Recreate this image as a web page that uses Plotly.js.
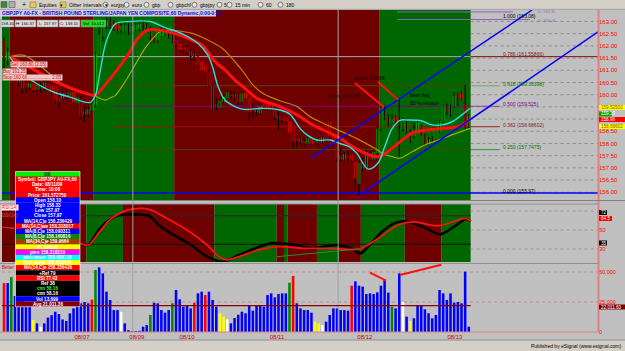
<!DOCTYPE html>
<html><head><meta charset="utf-8">
<script src="https://cdn.plot.ly/plotly-3.0.1.min.js"></script>
<style>html,body{margin:0;padding:0;background:#c0c0c0;overflow:hidden}#chart{width:625px;height:351px}</style>
</head><body><div id="chart"></div>
<script>
// ---------------- DATA ----------------
const barOpen = [162.24,161.4,161.7,161.2,160.85,160.6,160.5,160.3,160.45,160.2,160.4,160.25,160.45,160.35,160.35,159.9,159.85,160.1,159.95,160.1,159.65,159.85,159.3,159.2,159.35,159.6,161.65,162.4,162.8,163.0,162.95,162.9,162.65,162.6,162.85,162.6,162.65,162.7,162.85,162.85,162.72,162.4,162.25,162.4,162.45,162.6,162.45,162.25,162.1,161.9,161.95,161.8,161.7,161.55,161.35,161.2,160.95,160.35,159.6,159.45,159.7,159.85,160.0,160.0,160.0,159.7,160.1,159.9,159.4,159.3,159.25,159.8,159.7,159.6,159.45,159.1,159.15,159.05,158.9,158.7,158.2,158.2,158.1,158.0,158.15,158.05,158.2,158.05,158.4,158.9,158.3,157.95,157.5,157.35,157.5,157.55,157.25,156.35,157.25,157.0,157.6,157.35,157.6,158.6,159.4,159.1,158.85,159.1,158.95,158.6,158.9,158.55,158.3,158.55,158.7,158.35,158.0,158.2,158.2,158.5,158.9,159.5,159.55,159.5,160.0,160.05,159.6,158.7];
const barHigh = [162.35,161.95,161.8,161.3,160.95,160.7,160.6,160.55,160.55,160.5,160.5,160.6,160.55,160.4,160.4,160.1,160.15,160.2,160.15,160.15,160.0,159.95,159.55,159.5,159.75,161.75,162.8,162.95,163.15,163.2,163.05,163.0,162.9,162.95,162.95,162.9,162.95,163.0,163.05,162.95,162.8,162.5,162.55,162.8,162.75,162.7,162.5,162.3,162.15,162.0,162.0,161.85,161.75,161.6,161.4,161.25,161.0,160.4,159.85,159.85,160.0,160.2,160.15,160.1,160.05,160.15,160.2,159.95,159.6,159.45,159.6,159.85,159.75,159.65,159.5,159.3,159.2,159.1,158.95,158.75,158.25,158.25,158.25,158.25,158.2,158.2,158.25,158.3,158.5,159.05,158.35,158.0,157.8,157.65,157.7,157.6,157.3,157.3,157.4,157.75,157.7,157.75,158.75,159.6,159.55,159.2,159.2,159.15,159.78,159.05,159.0,158.6,158.85,158.95,158.75,158.4,158.25,158.3,158.65,158.95,159.6,159.65,159.6,160.1,160.1,160.15,160.4,159.2];
const barLow = [160.9,161.2,160.9,160.6,160.35,160.05,160.1,160.15,160.05,160.1,160.1,160.15,160.15,159.95,159.65,159.45,159.8,159.8,159.85,159.6,159.55,159.0,158.9,159.1,159.3,159.5,161.6,162.2,162.7,162.7,162.6,162.5,162.5,162.55,162.45,162.5,162.6,162.6,162.6,162.65,162.1,162.1,162.1,162.35,162.4,162.3,162.1,161.95,161.75,161.7,161.65,161.4,161.4,161.1,160.95,160.85,160.3,159.35,159.35,159.4,159.65,159.8,159.85,159.75,159.6,159.6,159.8,158.9,159.05,159.15,159.2,159.4,159.15,159.35,158.95,158.55,158.85,158.8,158.35,157.8,157.8,157.95,157.85,157.95,157.95,157.95,157.95,158.0,158.05,158.2,157.9,157.25,157.25,157.3,157.25,157.2,156.05,155.9,156.85,156.95,157.25,157.3,157.55,158.5,158.95,158.7,158.8,158.8,157.4,158.5,158.4,158.0,158.2,158.5,158.3,157.9,157.95,158.05,158.15,158.45,158.85,159.15,159.1,159.45,159.55,159.75,158.55,158.6];
const barClose = [161.56,161.75,161.2,160.8,160.5,160.25,160.3,160.45,160.2,160.4,160.25,160.5,160.3,160.1,159.75,159.7,160.05,159.9,160.1,159.7,159.9,159.1,159.2,159.4,159.65,161.65,162.45,162.8,163.0,162.95,162.7,162.65,162.8,162.85,162.55,162.8,162.85,162.9,162.8,162.7,162.38,162.2,162.45,162.65,162.65,162.35,162.2,162.05,161.85,161.85,161.75,161.5,161.5,161.2,161.0,160.95,160.35,159.4,159.5,159.75,159.9,160.1,159.95,159.9,159.7,160.05,159.85,159.3,159.3,159.35,159.55,159.45,159.45,159.45,159.05,159.05,158.95,158.9,158.45,158.1,158.1,158.05,158.0,158.2,158.0,158.1,158.0,158.25,158.1,158.3,158.0,157.4,157.35,157.55,157.4,157.3,156.6,157.2,156.95,157.65,157.35,157.65,158.6,159.45,159.1,158.8,159.0,158.9,158.9,158.95,158.5,158.1,158.55,158.85,158.4,158.0,158.15,158.15,158.55,158.85,159.55,159.3,159.2,159.95,159.9,159.85,158.65,159.15];
const volume = [40800,40800,45700,30000,28000,27000,24000,22000,10000,7200,4400,7200,12000,14000,16900,15000,10500,9200,15500,19700,21700,23900,25000,23900,27000,51700,53900,48900,33600,26700,18300,18300,16900,7200,1500,800,800,1000,4400,5800,14200,24400,23900,18300,16100,18300,23900,35000,27200,21100,21700,19700,24400,32200,33600,30800,33600,26700,21100,15600,12800,10600,7200,11700,14400,16900,15600,22500,17800,22500,22500,21100,30800,32200,28900,31700,32200,32200,41100,46700,23900,19700,18300,18300,16100,8600,7200,5800,8600,14200,19700,19700,18300,18300,17800,38600,42200,38600,37800,31700,32200,31700,33000,38600,43900,32800,21100,19700,48900,25000,12800,9200,11400,22500,22500,18900,15600,11400,14200,35000,32200,26700,32200,24400,25000,23900,50300,4400];
const volumeKind = "rbgbbbbbybwbbbbbbbbbbbbbrgbbbbbbwbbbbbbbgbbbbbgbbbbbrbbrbbbyywbbbbbbbbbbbbbbbbgrbbbbbyywbbbbbbbrbbbbbbbbbbgbbwbybbbbbbbbbbbbbbbbw";
const volumeAverage = 22011.6;

// moving averages: slot positions and prices
const fastMaSlot = [1.6,4.4,7.9,13.4,18,23.5,24.9,26.2,27.6,29,30.6,34.4,39.9,44,48.6,53,55.7,57.1,58.5,60.4,63.1,65.3,70.8,75.4,78.1,80.9,82.8,85.5,89.1,91.8,94.5,96.4,99.5,102.2,104.1,106,108.2,110.4,114.2,116.9,119.7,122.4,125.1,127.3];
const fastMaPrice = [161.55,161.0,160.55,160.12,159.9,159.68,159.95,160.9,162.0,162.58,162.92,163.0,163.0,162.75,162.5,162.1,161.62,161.08,160.33,159.78,159.51,159.4,159.44,159.37,159.2,158.62,158.35,158.14,158.14,158.0,157.85,157.6,156.95,157.2,157.9,158.6,158.95,158.96,158.92,158.76,158.76,158.89,159.17,159.44];
const midMaSlot = [1.6,7.9,15.3,23.5,24.9,26.2,29,30.3,33.9,36.6,39.3,42.1,46.7,51.4,54.1,57.7,60.4,63.1,65.3,69.1,72.7,75.4,80.1,84.4,89.1,91.8,94.5,98.6,102.2,104.9,107.7,111.5,115.8,120.5,124,127.3];
const midMaPrice = [161.55,161.05,160.45,160.0,159.97,160.15,160.65,160.9,161.63,162.31,162.65,162.65,162.5,162.24,162.03,161.35,161.01,160.6,160.33,159.85,159.65,159.51,159.17,158.76,158.42,158.21,157.94,157.6,157.46,157.66,158.0,158.42,158.55,158.62,158.69,158.96];
const slowFallASlot = [1.6,5.2,9.8,15.3,20.8,24.9];
const slowFallAPrice = [161.55,161.62,161.2,160.5,160.15,159.97];
const slowRiseASlot = [24.9,26.2,27.6,29.5,30.3,33.1,35.8,38.5,40.7,42.6,45.9];
const slowRiseAPrice = [159.97,159.85,159.78,159.9,159.95,160.53,161.22,161.9,162.31,162.58,162.65];
const slowFallBSlot = [45.9,51.4,55.7,59.6,63.1,65.3,68,70.8,75.4,80.1,83.6,89.1,96.4,101.9];
const slowFallBPrice = [162.65,162.51,162.24,161.9,161.35,160.95,160.4,160.05,159.75,159.51,159.1,158.7,158.2,157.75];
const slowRiseBSlot = [101.9,103.3,106,108.2,111.5,115,118.6,122.4,127.3];
const slowRiseBPrice = [157.75,157.6,157.46,157.4,157.66,157.94,158.14,158.35,158.62];

// RSI panel
const rsiSlot = [-0.5,2.2,5,10,15,20,20.8,23,26.2,29.4,31.6,34.7,39.6,42.3,45.6,51.1,55.5,59.8,64.2,68.6,73,75.1,78.4,83.9,91,94.8,97.5,100.3,103.3,106.6,109.3,112,115.3,119.1,123,126.2,127.5];
const rsiValue = [53.5,51.8,48,44,42,38,36,34.2,51.8,62.3,65.8,66.5,65,55.3,46.5,34.2,22,16.6,23.7,30.7,36,36,35,30.7,34.2,30.7,25.5,36,48.2,57,59.2,57,51.8,45.4,53.5,61.6,59.2];
const rsiSignalSlot = [-0.5,2.2,20.8,23,26.2,29.4,33.7,38,40.2,44.5,50,55.5,58.7,60.9,64.2,69.7,75.1,81.7,89.3,97,102.2,107.7,112,118.6,124,126.2,127.5];
const rsiSignalValue = [53,52,36,34,48.5,62.3,71,72.8,71,62.3,50,34.2,22,18.5,22,29,32.5,30.7,30.7,30,41,55.3,58.5,54.3,60.3,62.3,59.2];

// trend state bands (start slot, end slot, state)
const priceBandStart = [-0.55,1.5,24.5,46.5,102.5];
const priceBandEnd = [1.5,24.5,46.5,102.5,127.5];
const priceBandState = ['up','down','up','down','up'];
const rsiBandStart = [-0.55,22.5,32.5,57.5,74.5,76.5,77.5,85.5,91.5,97.5,109.5,119.5];
const rsiBandEnd = [22.5,32.5,57.5,74.5,76.5,77.5,85.5,91.5,97.5,109.5,119.5,127.5];
const rsiBandState = ['down','up','down','up','down','up','down','up','down','up','down','up'];

// Fibonacci retracement
const fibRatio = ['0.000','0.250','0.382','0.500','0.618','0.786','1.000'];
const fibPrice = [155.97,157.7475,158.68602,159.525,160.36398,161.55866,163.08];

// hand-drawn lines (slot, value pairs)
const channelUpper = {slot:[83.9,144.3], price:[157.40,163.47]};
const channelLower = {slot:[97.3,162.3], price:[155.89,162.57]};
const arrowA = {slot:[95.9,103.8], price:[160.48,159.49]};
const arrowB = {slot:[102.2,107.7], price:[160.52,159.78]};
const rsiTrend = {slot:[74.6,96.9], value:[21.9,30]};
const volTrendA = {slot:[100,104.4], value:[49400,42750]};
const volTrendB = {slot:[108.2,119.5], value:[47500,56100]};
const separatorSlot = [35.2,91.3];

// axis labels
const dateLabels = ['08/07','08/09','08/10','08/11','08/12','08/13'];
const dateTickSlot = [21.3,36.3,50,74.6,98.6,123.2];
const priceTicks = [156,156.5,157,157.5,158,158.5,160,160.5,161,161.5,162,162.5,163];
const rsiTicks = [30,50];
const volTicks = [0,25000,50000];
const volTickText = ['0','25,000','50,000'];

const infoLabels = ['OK','Symbol: GBPJPY A0-FX,60','Date: 08/11/09','Time: 10:00','Price: 161.572750','Open 158.10','High 158.33','Low 157.97','Close 157.97','MA(14,C)e 158.236429','MA(14,C)we 158.318017','MA(8,C)e 158.090311','MA(8,C)e 158.160816','MA(34,C)e 159.9664','PL 158.60','pivo 158.318319','pivo anver 158.606118','pivo anver 158.683446','MA(14,C)e 158.236429','+Ref 79','RSI 77.43','Ref 38','cnn 58.16','cnn 58.16','Vol 13,699','Avg 21,011.36'];

// ---------------- DRAWING ----------------
const F = 'Liberation Sans, Arial, sans-serif';
const W = 625, H = 351;
const P = x => x / W, Q = y => 1 - y / H;
const slots = barOpen.map((_, i) => i);
const shapes = [], ann = [];
const UP = '#006600', DOWN = '#6e0000';

function note(x, y, text, size, color, extra) {
  ann.push(Object.assign({xref:'paper', yref:'paper', x:P(x), y:Q(y), text:text, showarrow:false,
    xanchor:'left', yanchor:'middle', borderpad:0, font:{family:F, size:size, color:color}}, extra || {}));
}
function prect(x0, y0, x1, y1, fill, lineColor) {
  shapes.push({type:'rect', xref:'paper', yref:'paper', x0:P(x0), x1:P(x1), y0:Q(y1), y1:Q(y0),
    fillcolor:fill, line:{width:lineColor ? 0.6 : 0, color:lineColor || fill}, layer:'above'});
}
function pline(x0, y0, x1, y1, color, width, dash) {
  shapes.push({type:'line', xref:'paper', yref:'paper', x0:P(x0), x1:P(x1), y0:Q(y0), y1:Q(y1),
    line:{color:color, width:width || 1, dash:dash || 'solid'}, layer:'above'});
}
function dline(yref, x0, y0, x1, y1, color, width, layer, dash) {
  shapes.push({type:'line', xref:'x', yref:yref, x0:x0, x1:x1, y0:y0, y1:y1,
    line:{color:color, width:width, dash:dash || 'solid'}, layer:layer || 'above'});
}

// bands
priceBandStart.forEach((s, k) => shapes.push({type:'rect', xref:'x', yref:'y domain', x0:s, x1:priceBandEnd[k], y0:0, y1:1,
  fillcolor: priceBandState[k] === 'up' ? UP : DOWN, line:{width:0}, layer:'below'}));
rsiBandStart.forEach((s, k) => shapes.push({type:'rect', xref:'x', yref:'y2 domain', x0:s, x1:rsiBandEnd[k], y0:0, y1:1,
  fillcolor: rsiBandState[k] === 'up' ? UP : DOWN, line:{width:0}, layer:'below'}));

const XEND = 162.3, BANDEND = 127.5;
const gridLevels = [156,156.5,157,157.5,158,158.5,159,159.5,160,160.5,161,161.5,162,162.5,163];
gridLevels.forEach(t => dline('y', BANDEND, t, XEND, t, '#8c8c8c', 1, 'below', 'dot'));
[30,50,70].forEach(t => dline('y2', BANDEND, t, XEND, t, '#b08a8a', 1, 'below', 'dot'));
[25000, 50000].forEach(t => dline('y3', -0.55, t, XEND, t, '#c08a8a', 1, 'below', 'dot'));
dline('y2', -0.55, 65, BANDEND, 65, '#2a2a2a', 1, 'below');
dline('y2', -0.55, 35, BANDEND, 35, '#111', 1, 'below');

const fibBandColor = ['#0000ff','#4a4a00','#a01010','#800080','#5a4000','#a8a8a8','#9060c0'];
const fibShortColor = ['#0000ff','#2e9a2e','#8b2a2a','#9040a0','#6aaa6a','#8b1010','#9060c0'];
const fibLabelColor = ['#000','#007000','#802020','#800080','#007000','#802020','#000'];
fibPrice.forEach((p, k) => {
  if (k === 0) { dline('y', -0.55, p, XEND, p, '#0000ff', 1.5, 'below'); }
  else if (k === 5) { dline('y', -0.55, p, BANDEND, p, fibBandColor[k], 1, 'below'); dline('y', BANDEND, p, XEND, p, fibShortColor[k], 1, 'below'); }
  else if (k === 6) { dline('y', 107.4, p, 143.7, p, '#9060c0', 1, 'above'); dline('y', 107.4, 163.39, 139.1, 163.39, '#9060c0', 1, 'above'); }
  else { dline('y', 29.8, p, BANDEND, p, fibBandColor[k], 1, 'below'); dline('y', BANDEND, p, 135.5, p, fibShortColor[k], 1, 'below'); }
  ann.push({xref:'x', yref:'y', x:135.8, y:p + (k === 6 ? 0.15 : 0.09), text:fibRatio[k] + ' (' + p + ')', showarrow:false, xanchor:'left', yanchor:'middle',
    font:{family:F, size:5, color:fibLabelColor[k]}});
});
ann.push({xref:'x', yref:'y', x:145.3, y:163.41, text:'D: 163.35', showarrow:false, xanchor:'left', yanchor:'middle', font:{family:F, size:4, color:'#9060c0'}});
ann.push({xref:'x', yref:'y', x:145.3, y:163.03, text:'D: 163.08', showarrow:false, xanchor:'left', yanchor:'middle', font:{family:F, size:4, color:'#9060c0'}});

separatorSlot.forEach(s => shapes.push({type:'line', xref:'x', yref:'paper', x0:s, x1:s, y0:Q(332), y1:Q(10), line:{color:'#a0a0a0', width:1}, layer:'above'}));

dline('y', channelUpper.slot[0], channelUpper.price[0], channelUpper.slot[1], channelUpper.price[1], '#0000ff', 1.5);
dline('y', channelLower.slot[0], channelLower.price[0], channelLower.slot[1], channelLower.price[1], '#0000ff', 1.5);
dline('y', arrowA.slot[0], arrowA.price[0], arrowA.slot[1], arrowA.price[1], '#ff1010', 2);
dline('y', arrowB.slot[0], arrowB.price[0], arrowB.slot[1], arrowB.price[1], '#ff1010', 2);
dline('y2', rsiTrend.slot[0], rsiTrend.value[0], rsiTrend.slot[1], rsiTrend.value[1], '#2e8b2e', 1);
dline('y3', volTrendA.slot[0], volTrendA.value[0], volTrendA.slot[1], volTrendA.value[1], '#ff1010', 2);
dline('y3', volTrendB.slot[0], volTrendB.value[0], volTrendB.slot[1], volTrendB.value[1], '#ff1010', 2);
dline('y3', -0.55, volumeAverage, BANDEND, volumeAverage, '#800000', 1.2);

pline(598.5, 10, 598.5, 332, '#e08080', 2);
pline(0, 332, 598.5, 332, '#e08080', 1);
pline(0, 200.5, 625, 200.5, '#808080', 1);
pline(0, 204, 598, 204, '#909090', 1);
pline(0, 263.5, 598, 263.5, '#909090', 1);

// toolbar
prect(0, 0, 625, 9, '#d4d0c8');
pline(0, 9.3, 625, 9.3, '#909090', 0.6);
prect(1, 1.5, 7, 7.5, '#3a8a3a', '#555'); prect(9, 1.5, 15, 7.5, '#b0b0b0', '#555');
note(21, 4.8, '+', 7, '#000');
prect(30, 2, 36, 7.5, '#e8c860', '#907020'); note(38, 4.8, 'Equities  ▾', 5, '#000');
prect(60, 2, 66, 7.5, '#e8c860', '#907020'); note(68, 4.8, 'Other Intervals  ▾', 5, '#000');
[['eurjpy',103],['euro',124],['gbp',144],['gbpchf',168],['gbpjpy',192],['5',217],['15 min',227],['60',258],['180',278]].forEach(([t, x]) => {
  shapes.push({type:'circle', xref:'paper', yref:'paper', x0:P(x), x1:P(x + 5), y0:Q(7.3), y1:Q(2.3), line:{color:'#333', width:0.6}, fillcolor:'#e8e8e8', layer:'above'});
  note(x + 6.5, 4.8, t, 5, '#000');
});

prect(0, 10, 216, 16.5, '#cfcfe0');
note(1, 13.3, '<b>GBPJPY A0-FX - BRITISH POUND STERLING/JAPAN YEN COMPOSITE,60 Dynamic,0:00-0:00</b>', 5, '#1010d0');
[['158.40',0,14],['H: 160.37',15,36],['L: 157.97',37,58],['C: 159.10',59,80]].forEach(([t, a, b]) => { prect(a, 20, b, 27, '#dcdcdc', '#808080'); note((a + b) / 2, 23.5, t, 4.2, '#000', {xanchor:'center'}); });
prect(81, 20, 106, 27, '#22dd22', '#808080'); note(93.5, 23.5, 'Vol: 10,012', 4.2, '#000', {xanchor:'center'});

note(10, 65, 'Sell 160.80 (2.05)', 4.5, '#e00000', {bgcolor:'#efc8c8'});
note(2, 71.5, 'Buy 161.25', 4.5, '#e00000', {bgcolor:'#efc8c8'});
note(2, 77.5, 'Stop 160.66 .................. 2.05', 4.5, '#e00000', {bgcolor:'#efc8c8'});

ann.push({xref:'x', yref:'y', x:88, y:159.95, text:'selling 159.58', showarrow:false, xanchor:'left', yanchor:'middle', font:{family:F, size:5, color:'#151515'}});
ann.push({xref:'x', yref:'y', x:95.1, y:160.68, text:'re test 159.58', showarrow:false, xanchor:'left', yanchor:'middle', font:{family:F, size:5, color:'#1a0000'}});
ann.push({xref:'x', yref:'y', x:110.4, y:159.97, text:'bear flag', showarrow:false, xanchor:'left', yanchor:'middle', font:{family:F, size:5, color:'#000'}});
ann.push({xref:'x', yref:'y', x:110.4, y:159.67, text:'50 % retrace', showarrow:false, xanchor:'left', yanchor:'middle', font:{family:F, size:5, color:'#000'}});

note(0.5, 207.5, 'RSI(14)', 4.5, '#e00000', {bgcolor:'#ffffff'});
note(0.5, 215, 'DSI(14)', 4.5, '#ff4040');
note(0.5, 267, 'Better', 4.5, '#e00000');

const infoBg = ['#00ee00','#ff0000','#ff0000','#ff0000','#ff0000','#0000ff','#0000ff','#0000ff','#0000ff','#0000ff','#ff0000','#0000ff','#008800','#a04000','#ffff00','#ff00ff','#00ffff','#ffff00','#ff0000','#000000','#ff0000','#000000','#000000','#000000','#0000ff','#800000'];
infoLabels.forEach((t, k) => {
  const y0 = 171.5 + k * 5.2;
  prect(15.5, y0, 80, y0 + 5.2, infoBg[k]);
  note(47.75, y0 + 2.7, '<b>' + t + '</b>', 4.6, k === 0 ? '#003000' : (k === 22 ? '#33ff33' : '#ffffff'), {xanchor:'center'});
});
prect(15.5, 171.5, 80, 306.7, 'rgba(0,0,0,0)', '#ffffff');

[['159.52500',107.5,'#ffff00','#806000',625],['159.15',114,'#00aa00','#fff',612],['158.96',119.5,'#ff0000','#fff',625],['158.68602',126.6,'#ffff00','#806000',625]].forEach(([t, y, bg, fc, r]) => {
  prect(599, y - 2.5, r, y + 2.5, bg); note(600, y, t, 4.6, fc);
});
[['72',212.5,'#000','#fff',607],['64.5',218.5,'#ff0000','#fff',612],['35',243,'#000','#fff',607]].forEach(([t, y, bg, fc, r]) => {
  prect(599, y - 2.5, r, y + 2.5, bg); note(600, y, t, 4.6, fc);
});
prect(599, 304.5, 625, 309.5, '#800000'); note(600, 307, '22,011.60', 4.6, '#fff');

prect(0, 340, 625, 351, '#d4d0c8');
pline(0, 340, 625, 340, '#808080', 0.8);
note(622, 346, 'Published by eSignal (www.esignal.com)', 5, '#000', {xanchor:'right'});

// ---------------- TRACES ----------------
const wickX = [], wickY = [];
slots.forEach(i => { wickX.push(i, i, null); wickY.push(barLow[i], barHigh[i], null); });
const bodyTop = slots.map(i => Math.max(barOpen[i], barClose[i]));
const bodyBot = slots.map(i => Math.min(barOpen[i], barClose[i]));
const volColorMap = {b:'#0000ff', r:'#ff0000', g:'#008800', y:'#ffff00', w:'#ffffff'};

const line = (x, y, color, width, yaxis, smooth) => ({type:'scatter', mode:'lines', x:x, y:y, yaxis:yaxis || 'y',
  line:{color:color, width:width, shape:'spline', smoothing:smooth || 1}, hoverinfo:'skip'});

const data = [
  {type:'scatter', mode:'lines', x:wickX, y:wickY, line:{color:'#000', width:1}, hoverinfo:'skip', connectgaps:false},
  {type:'candlestick', x:slots, open:barOpen, high:bodyTop, low:bodyBot, close:barClose, whiskerwidth:0,
    increasing:{line:{color:'#00c000', width:0.6}, fillcolor:'#00c000'},
    decreasing:{line:{color:'#ff0000', width:0.6}, fillcolor:'#ff0000'}, hoverinfo:'skip'},
  line(slowFallASlot, slowFallAPrice, '#c08000', 1.2),
  line(slowRiseASlot, slowRiseAPrice, '#a8a800', 1.2),
  line(slowFallBSlot, slowFallBPrice, '#c08000', 1.2),
  line(slowRiseBSlot, slowRiseBPrice, '#a8a800', 1.2),
  line(midMaSlot, midMaPrice, '#ff1010', 3),
  line(fastMaSlot, fastMaPrice, '#30e0e0', 1.4),
  line(rsiSlot, rsiValue, '#000000', 2.6, 'y2', 0.8),
  line(rsiSignalSlot, rsiSignalValue, '#ff1010', 1.8, 'y2', 0.8),
  {type:'bar', x:slots, y:volume, yaxis:'y3', width:0.7, marker:{color:slots.map(i => volColorMap[volumeKind[i]]), line:{width:0}}, hoverinfo:'skip'}
];

const tickFont = {family:F, size:6, color:'#ff0000'};
const layout = {
  width:W, height:H, margin:{l:0, r:0, t:0, b:0}, paper_bgcolor:'#c0c0c0', plot_bgcolor:'#c0c0c0', showlegend:false,
  xaxis:{domain:[P(2), P(598)], range:[-0.546, XEND], anchor:'y3', tickmode:'array', tickvals:dateTickSlot, ticktext:dateLabels,
    tickfont:{family:F, size:6, color:'#d00000'}, ticks:'', showgrid:false, zeroline:false, showline:false, rangeslider:{visible:false}, fixedrange:true},
  yaxis:{domain:[Q(200), Q(10)], range:[155.683, 163.47], side:'right', anchor:'x', tickmode:'array', tickvals:priceTicks,
    ticktext:priceTicks.map(v => v.toFixed(2)), tickfont:tickFont, ticks:'', showgrid:false, zeroline:false, fixedrange:true},
  yaxis2:{domain:[Q(262), Q(204)], range:[16.3, 77.4], side:'right', anchor:'x', tickmode:'array', tickvals:rsiTicks,
    tickfont:tickFont, ticks:'', showgrid:false, zeroline:false, fixedrange:true},
  yaxis3:{domain:[Q(332), Q(264)], range:[0, 56667], side:'right', anchor:'x', tickmode:'array', tickvals:volTicks, ticktext:volTickText,
    tickfont:{family:F, size:5.5, color:'#ff0000'}, ticks:'', showgrid:false, zeroline:false, fixedrange:true},
  bargap:0.3, shapes:shapes, annotations:ann
};
Plotly.newPlot('chart', data, layout, {staticPlot:true, displayModeBar:false});
</script></body></html>
